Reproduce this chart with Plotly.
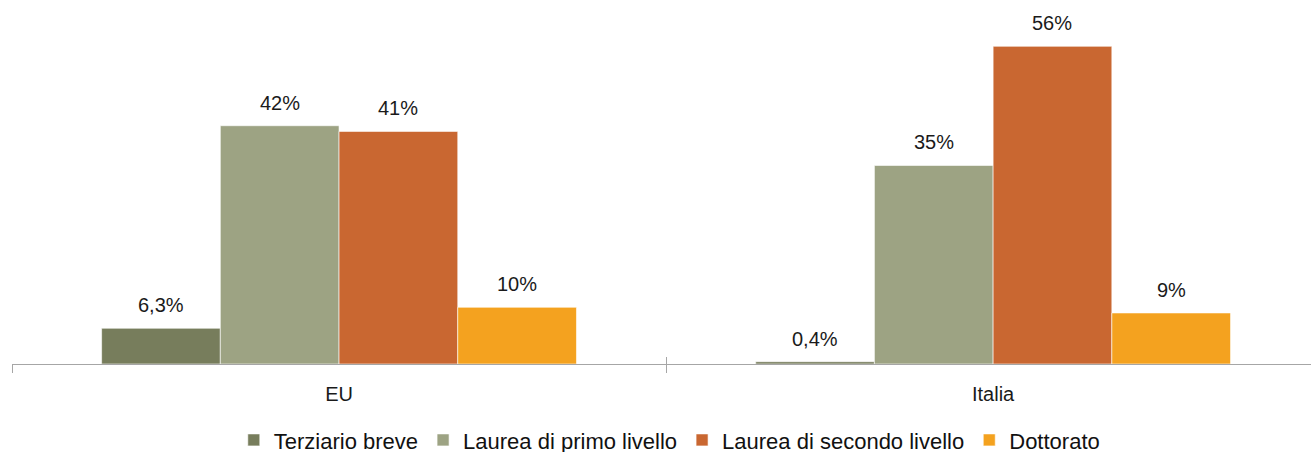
import plotly.graph_objects as go

categories = ["EU", "Italia"]
series_names = ["Terziario breve", "Laurea di primo livello", "Laurea di secondo livello", "Dottorato"]
values = {
    "Terziario breve": [6.3, 0.4],
    "Laurea di primo livello": [42, 35],
    "Laurea di secondo livello": [41, 56],
    "Dottorato": [10, 9],
}
labels = {
    "Terziario breve": ["6,3%", "0,4%"],
    "Laurea di primo livello": ["42%", "35%"],
    "Laurea di secondo livello": ["41%", "56%"],
    "Dottorato": ["10%", "9%"],
}
colors = ["#777D5C", "#9DA383", "#C96731", "#F4A21F"]

FONT = "Liberation Sans, Arial, sans-serif"
bargap = 0.274
n = len(series_names)
bw = (1 - bargap) / n

fig = go.Figure()
for j, name in enumerate(series_names):
    fig.add_trace(go.Bar(
        x=categories, y=values[name], name=name,
        marker=dict(color=colors[j], line=dict(color="white", width=0.6)),
        hoverinfo="skip",
    ))
    for i, cat in enumerate(categories):
        fig.add_annotation(
            x=i + (j - (n - 1) / 2) * bw, y=values[name][i], xref="x", yref="y",
            text=labels[name][i], showarrow=False, yanchor="middle", yshift=23,
            font=dict(family=FONT, size=20, color="#1A1A1A"),
        )

fig.update_layout(
    width=1311, height=452,
    margin=dict(l=12, r=0, t=10, b=88, autoexpand=False),
    paper_bgcolor="white", plot_bgcolor="white",
    barmode="group", bargap=bargap, bargroupgap=0,
    showlegend=True,
    legend=dict(orientation="h", x=0.506, xanchor="center",
                y=-0.215, yanchor="middle",
                font=dict(family=FONT, size=22, color="#111111"),
                itemwidth=30, traceorder="normal", tracegroupgap=0),
    xaxis=dict(type="category", range=[-0.5, 1.486], tickson="boundaries",
               ticks="outside", ticklen=8, tickcolor="#A6A6A6", tickwidth=1,
               showline=True, linecolor="#A6A6A6", linewidth=1,
               showgrid=False, zeroline=False, ticklabelstandoff=12,
               tickfont=dict(family=FONT, size=20, color="#1A1A1A")),
    xaxis2=dict(overlaying="x", range=[-0.5, 1.486], tickmode="array",
                tickvals=[-0.5, 0.5, 1.5], ticks="inside", ticklen=7,
                tickcolor="#A6A6A6", showticklabels=False, showgrid=False,
                zeroline=False, showline=False),
    yaxis=dict(range=[0, 62.4], visible=False, showgrid=False, zeroline=False),
)
fig.add_trace(go.Scatter(x=[0], y=[0], xaxis="x2", mode="markers",
                         marker=dict(opacity=0), showlegend=False, hoverinfo="skip"))

fig.write_html("out.html")
